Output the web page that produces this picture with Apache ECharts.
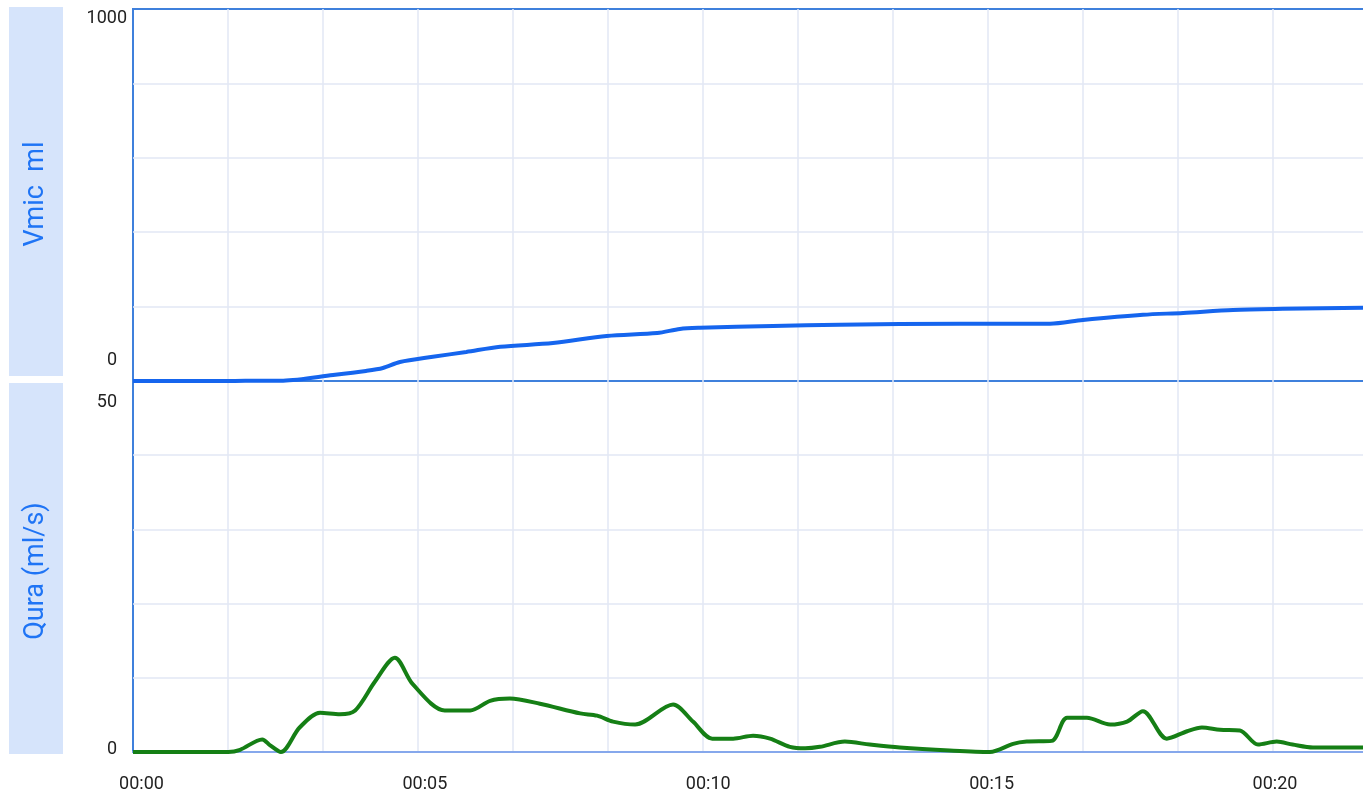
<!DOCTYPE html>
<html>
<head>
<meta charset="utf-8">
<script src="https://cdn.jsdelivr.net/npm/echarts@6/dist/echarts.min.js"></script>
<style>
  html, body { margin: 0; padding: 0; background: #ffffff; }
  #chart { width: 1363px; height: 793px; }
</style>
</head>
<body>
<div id="chart"></div>
<script>
// ---- data (seconds, ml, ml/s) ----
const timeLabels = [0, 5, 10, 15, 20];
const vmicTicks = [0, 1000];
const quraTicks = [0, 50];

const vmicTime = [-0.15, 1.53, 2.13, 2.50, 3.38, 3.96, 4.26, 4.56, 5.14, 5.73, 6.33, 7.26, 8.21, 9.10, 9.50, 9.85, 11.14, 12.32, 14.44, 16.03, 16.61, 17.67, 18.38, 19.26, 20.14, 21.55, 22.3];
const vmicValues = [0, 0, 1, 1, 16, 27, 35, 51, 65, 78, 92, 102, 121, 129, 140, 143, 148, 151, 154, 154, 164, 178, 183, 191, 194, 197, 198];

const quraTime = [-0.15, 1.53, 1.74, 2.13, 2.27, 2.46, 2.79, 3.15, 3.50, 3.77, 4.12, 4.47, 4.79, 5.35, 5.80, 6.15, 6.50, 7.03, 7.74, 8.04, 8.32, 8.71, 9.38, 9.73, 10.07, 10.44, 10.79, 11.09, 11.44, 11.71, 11.97, 12.41, 12.85, 13.38, 14.26, 14.97, 15.38, 15.62, 16.06, 16.33, 16.68, 17.09, 17.39, 17.67, 18.09, 18.45, 18.71, 19.03, 19.38, 19.70, 20.03, 20.31, 20.67, 21.55, 22.3];
const quraValues = [0, 0, 0.3, 1.7, 0.9, 0, 3.3, 5.3, 5.1, 5.6, 9.5, 12.7, 9.1, 5.6, 5.6, 6.9, 7.2, 6.5, 5.2, 4.9, 4.1, 3.7, 6.4, 4.1, 1.8, 1.8, 2.2, 1.8, 0.7, 0.5, 0.7, 1.4, 1.0, 0.6, 0.2, 0, 1.1, 1.4, 1.5, 4.6, 4.6, 3.7, 4.1, 5.5, 1.8, 2.8, 3.3, 3.0, 2.9, 1.0, 1.4, 1.0, 0.6, 0.6, 0.6];

// ---- layout ----
const gridLeft = 133;
const plotWidth = 1270; // plot area runs past the right edge of the window
const top0 = 9, h0 = 372, top1 = 381, h1 = 371;
const tMin = -0.15, pxPerSec = 56.675, cellPx = 95;
const tMax = tMin + plotWidth / pxPerSec;
const cellMax = plotWidth / cellPx;

const BORDER = '#3f80dc';
const SPLIT = '#e2e7f4';
const LABEL = '#222222';
const FONT = 'Roboto, "Noto Sans", sans-serif';

const chart = echarts.init(document.getElementById('chart'), null, { renderer: 'canvas' });

function pad2(n) { return (n < 10 ? '0' : '') + n; }

const splitStyle = { show: true, showMinLine: false, showMaxLine: false, lineStyle: { color: SPLIT, width: 1.5 } };

const option = {
  backgroundColor: '#ffffff',
  animation: false,
  graphic: [
    { type: 'rect', shape: { x: 9, y: 7, width: 54, height: 369 }, style: { fill: '#d6e4fb' } },
    { type: 'rect', shape: { x: 9, y: 383, width: 54, height: 371 }, style: { fill: '#d6e4fb' } },
    { type: 'text', x: 36, y: 194, rotation: Math.PI / 2,
      style: { text: 'Vmic  ml', fill: '#1f74f5', font: '27px ' + FONT, textAlign: 'center', textVerticalAlign: 'middle' } },
    { type: 'text', x: 36, y: 571, rotation: Math.PI / 2,
      style: { text: 'Qura (ml/s)', fill: '#1f74f5', font: '27px ' + FONT, textAlign: 'center', textVerticalAlign: 'middle' } }
  ],
  grid: [
    { left: gridLeft, width: plotWidth, top: top0, height: h0, outerBoundsMode: 'none', containLabel: false, show: true, borderColor: BORDER, borderWidth: 2, backgroundColor: 'transparent' },
    { left: gridLeft, width: plotWidth, top: top1, height: h1, outerBoundsMode: 'none', containLabel: false, show: true, borderColor: BORDER, borderWidth: 2, backgroundColor: 'transparent' }
  ],
  xAxis: [
    { type: 'value', gridIndex: 0, min: tMin, max: tMax, axisLine: { show: false }, axisTick: { show: false }, axisLabel: { show: false }, splitLine: { show: false } },
    { type: 'value', gridIndex: 0, min: 0, max: cellMax, interval: 1, axisLine: { show: false }, axisTick: { show: false }, axisLabel: { show: false }, splitLine: splitStyle },
    { type: 'value', gridIndex: 1, min: tMin, max: tMax,
      axisLine: { show: true, lineStyle: { color: '#86a8ec', width: 2 } },
      axisTick: { show: false },
      splitLine: { show: false },
      axisLabel: { show: true, customValues: timeLabels, margin: 23, color: LABEL, fontSize: 18, fontFamily: FONT,
        formatter: v => '00:' + pad2(Math.round(v)) } },
    { type: 'value', gridIndex: 1, min: 0, max: cellMax, interval: 1, axisLine: { show: false }, axisTick: { show: false }, axisLabel: { show: false }, splitLine: splitStyle }
  ],
  yAxis: [
    { type: 'value', gridIndex: 0, min: vmicTicks[0], max: vmicTicks[1], interval: 200,
      axisLine: { show: false }, axisTick: { show: false },
      splitLine: splitStyle,
      axisLabel: { margin: 6, color: LABEL, fontSize: 18, fontFamily: FONT,
        formatter: v => v === vmicTicks[1] ? '{top|' + v + '}' : (v === vmicTicks[0] ? '{bot|' + v + '}' : ''),
        rich: {
          top: { padding: [18, 0, 0, 0], color: LABEL, fontSize: 18, fontFamily: FONT },
          bot: { padding: [0, 10, 42, 0], color: LABEL, fontSize: 18, fontFamily: FONT }
        } } },
    { type: 'value', gridIndex: 1, min: quraTicks[0], max: quraTicks[1], interval: 10,
      axisLine: { show: false }, axisTick: { show: false },
      splitLine: splitStyle,
      axisLabel: { margin: 6, color: LABEL, fontSize: 18, fontFamily: FONT,
        formatter: v => v === quraTicks[1] ? '{top|' + v + '}' : (v === quraTicks[0] ? '{bot|' + v + '}' : ''),
        rich: {
          top: { padding: [42, 10, 0, 0], color: LABEL, fontSize: 18, fontFamily: FONT },
          bot: { padding: [0, 10, 5, 0], color: LABEL, fontSize: 18, fontFamily: FONT }
        } } }
  ],
  series: [
    { name: 'Vmic', type: 'line', xAxisIndex: 0, yAxisIndex: 0, showSymbol: false, smooth: 0.3,
      lineStyle: { color: '#1565ee', width: 4 }, itemStyle: { color: '#1565ee' },
      data: vmicTime.map((t, i) => [t, vmicValues[i]]) },
    { name: 'Qura', type: 'line', xAxisIndex: 2, yAxisIndex: 1, showSymbol: false, smooth: 0.3,
      lineStyle: { color: '#157f15', width: 4 }, itemStyle: { color: '#157f15' },
      data: quraTime.map((t, i) => [t, quraValues[i]]) }
  ]
};

chart.setOption(option);
</script>
</body>
</html>
